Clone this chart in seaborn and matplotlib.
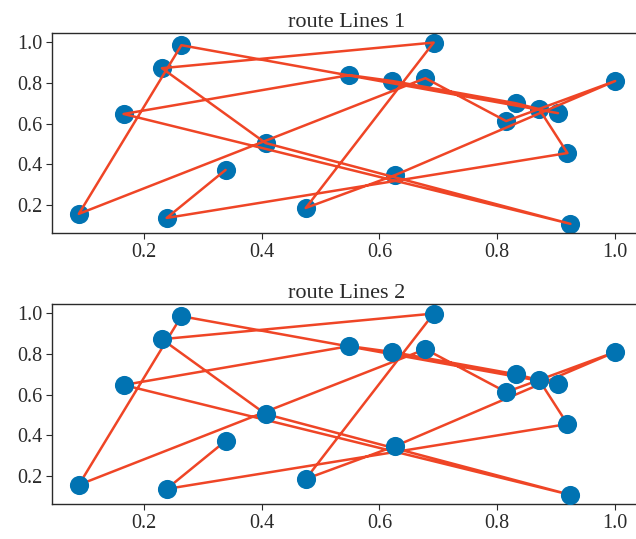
import numpy as np
import pandas as pd
import matplotlib
matplotlib.use("Agg")
import matplotlib.pyplot as plt
import seaborn as sns

# city coordinates
city_x = [0.090, 0.166, 0.231, 0.264, 0.239, 0.339, 0.407, 0.475, 0.549, 0.622,
          0.627, 0.678, 0.692, 0.815, 0.831, 0.871, 0.903, 0.919, 0.924, 1.000]
city_y = [0.156, 0.647, 0.872, 0.985, 0.136, 0.372, 0.504, 0.185, 0.838, 0.809,
          0.347, 0.823, 0.998, 0.612, 0.700, 0.671, 0.651, 0.455, 0.107, 0.809]
# visiting order (indices into the city lists)
route = [5, 4, 17, 15, 14, 9, 8, 1, 18, 6, 2, 12, 7, 10, 19, 13, 11, 0, 3, 16]
titles = ["route Lines 1", "route Lines 2"]
tick_vals = [0.2, 0.4, 0.6, 0.8, 1.0]
tick_labels = ["0.2", "0.4", "0.6", "0.8", "1.0"]

sns.set_style("ticks")
plt.rcParams['font.family'] = ['Liberation Serif', 'DejaVu Serif']

point_color = "#0173B2"
line_color = "#EF4526"
text_color = "#2a2a2a"

cities = pd.DataFrame({"x": city_x, "y": city_y})
path = pd.DataFrame({"x": [city_x[i] for i in route],
                     "y": [city_y[i] for i in route],
                     "step": np.arange(len(route))})

fig = plt.figure(figsize=(6.36, 5.39), dpi=100)
W, H = 636, 539
def rect(l, t, r, b):
    return [l / W, 1 - b / H, (r - l) / W, (b - t) / H]

axes = [fig.add_axes(rect(52, 33, 642, 233)), fig.add_axes(rect(52, 304, 642, 504))]

for k, ax in enumerate(axes):
    pz, lz = (2, 3) if k == 0 else (3, 2)
    sns.scatterplot(data=cities, x="x", y="y", ax=ax, color=point_color, s=190,
                    linewidth=0, zorder=pz)
    sns.lineplot(data=path, x="x", y="y", ax=ax, sort=False, estimator=None,
                 color=line_color, linewidth=1.8, zorder=lz)
    ax.set_xlim(0.0445, 1.0455)
    ax.set_ylim(0.062, 1.045)
    ax.set_xticks(tick_vals)
    ax.set_yticks(tick_vals)
    ax.set_xticklabels(tick_labels)
    ax.set_yticklabels(tick_labels)
    ax.set_xlabel("")
    ax.set_ylabel("")
    ax.tick_params(labelsize=14.5, colors=text_color, length=4, pad=3)
    for sp in ax.spines.values():
        sp.set_color(text_color)
        sp.set_linewidth(1.0)
    ax.set_title(titles[k], fontsize=16, color=text_color, pad=4)

fig.savefig("out.png", dpi=100)
